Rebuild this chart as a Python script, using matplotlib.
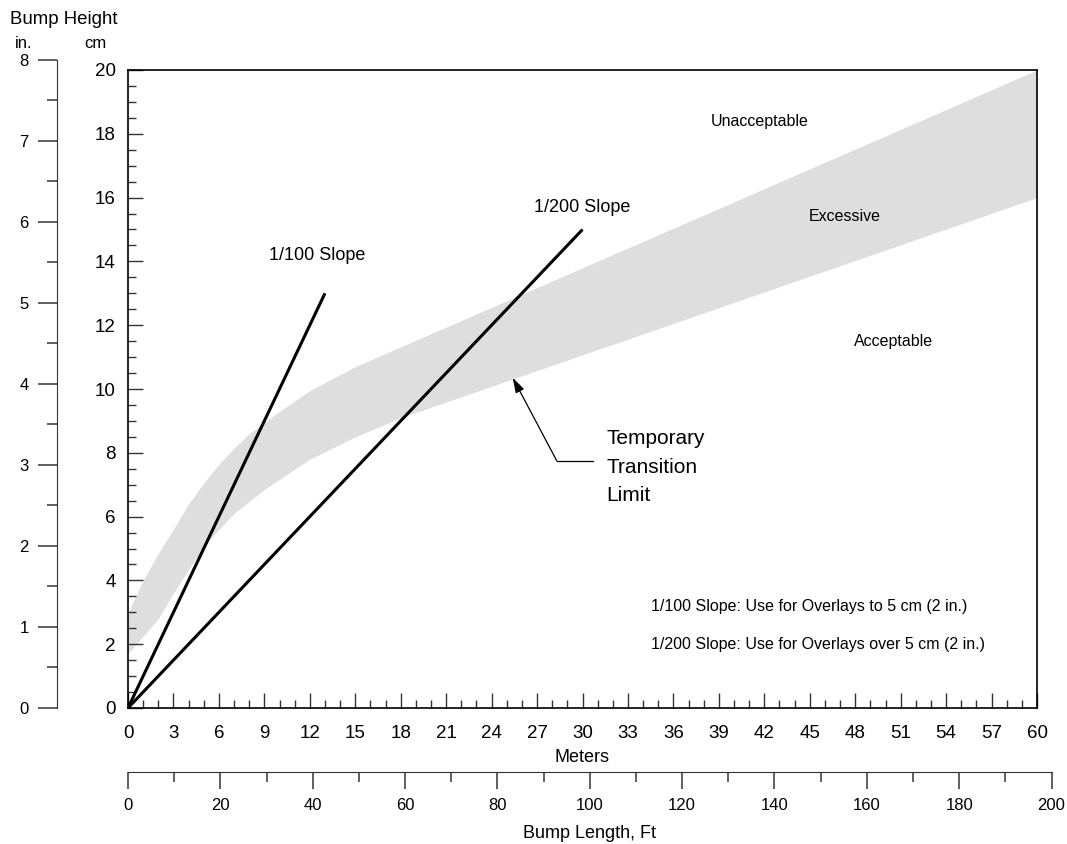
import numpy as np
import matplotlib.pyplot as plt
from matplotlib.ticker import MultipleLocator

plt.rcParams['font.family'] = ['Liberation Sans', 'DejaVu Sans']

# upper / lower edges of the temporary transition band (meters, cm)
upper_x = [0, 1, 2, 3, 4, 5, 6, 7, 8, 9, 10, 12, 15, 60]
upper_y = [3.0, 4.0, 4.85, 5.6, 6.4, 7.05, 7.65, 8.15, 8.6, 8.95, 9.3, 9.95, 10.7, 20.0]
lower_x = [0, 1, 2, 3, 4, 5, 6, 7, 9, 12, 15, 18, 60]
lower_y = [1.7, 2.25, 2.8, 3.6, 4.35, 5.05, 5.6, 6.1, 6.85, 7.8, 8.5, 9.1, 16.0]

# slope lines: end point in meters, rise per meter
slope_len = [13, 30]
slope_rate = [1 / 100 * 100, 1 / 200 * 100]   # cm per m
slope_names = ['1/100 Slope', '1/200 Slope']

CM_PER_IN = 2.54
M_PER_FT = 0.3048
X_MAX, Y_MAX = 60, 20
IN_MAX, FT_MAX = 8, 200

W, H = 1067, 844
fig = plt.figure(figsize=(W / 100, H / 100), dpi=100)

# main plot box in pixels
L, B, PW, PH = 128, 136, 909, 638
ax = fig.add_axes([L / W, B / H, PW / W, PH / H])

# band, drawn on a common x grid
xg = np.union1d(upper_x, lower_x)
ax.fill_between(xg, np.interp(xg, lower_x, lower_y), np.interp(xg, upper_x, upper_y),
                color='#dedede', lw=0, zorder=1)

for n, r in zip(slope_len, slope_rate):
    ax.plot([0, n], [0, n * r], color='black', lw=2.2, solid_capstyle='butt', zorder=3)

ax.set_xlim(0, X_MAX)
ax.set_ylim(0, Y_MAX)
ax.xaxis.set_major_locator(MultipleLocator(3))
ax.xaxis.set_minor_locator(MultipleLocator(1))
ax.yaxis.set_major_locator(MultipleLocator(2))
ax.yaxis.set_minor_locator(MultipleLocator(0.5))
ax.tick_params(which='both', direction='in', top=False, right=False, width=1.0, color='#333333')
ax.tick_params(which='major', length=10.5, labelsize=13.5, pad=9)
ax.tick_params(axis='x', which='major', pad=12)
ax.tick_params(which='minor', length=5.5)
for s in ax.spines.values():
    s.set_linewidth(1.2)
ax.set_xlabel('Meters', fontsize=13, labelpad=5)

ax.text(12.5, 14.2, slope_names[0], fontsize=13, ha='center', va='center')
ax.text(30, 15.7, slope_names[1], fontsize=13, ha='center', va='center')
ax.text(41.7, 18.4, 'Unacceptable', fontsize=11.5, ha='center', va='center')
ax.text(47.3, 15.4, 'Excessive', fontsize=11.5, ha='center', va='center')
ax.text(50.5, 11.5, 'Acceptable', fontsize=11.5, ha='center', va='center')
ax.text(34.5, 3.17, '1/100 Slope: Use for Overlays to 5 cm (2 in.)', fontsize=11.5, va='center')
ax.text(34.5, 2.0, '1/200 Slope: Use for Overlays over 5 cm (2 in.)', fontsize=11.5, va='center')

ax.text(31.6, 7.55, 'Temporary\nTransition\nLimit', fontsize=15, va='center', ha='left',
        linespacing=1.64)
ax.plot([28.3, 30.7], [7.75, 7.75], color='black', lw=0.9)
ax.annotate('', xy=(25.4, 10.35), xytext=(28.3, 7.75),
            arrowprops=dict(arrowstyle='-|>,head_length=0.9,head_width=0.28',
                            color='black', lw=0.9, shrinkA=0, shrinkB=0))

# inch scale on the far left
ax_in = fig.add_axes([57 / W, B / H, 0.0001, PH * IN_MAX * CM_PER_IN / Y_MAX / H])
ax_in.set_ylim(0, IN_MAX)
ax_in.set_xticks([])
for k in ['top', 'right', 'bottom']:
    ax_in.spines[k].set_visible(False)
ax_in.spines['left'].set_color('#333333')
ax_in.yaxis.set_major_locator(MultipleLocator(1))
ax_in.yaxis.set_minor_locator(MultipleLocator(0.5))
ax_in.tick_params(which='both', direction='out', length=13.5, width=1.2, color='#444444')
ax_in.tick_params(which='minor', length=7)
ax_in.tick_params(which='major', labelsize=12, pad=7)
ax_in.patch.set_visible(False)

# feet scale below the meters
ax_ft = fig.add_axes([L / W, 72 / H, PW * FT_MAX * M_PER_FT / X_MAX / W, 0.0001])
ax_ft.set_xlim(0, FT_MAX)
ax_ft.set_yticks([])
for k in ['top', 'right', 'left']:
    ax_ft.spines[k].set_visible(False)
ax_ft.spines['bottom'].set_color('#333333')
ax_ft.xaxis.set_major_locator(MultipleLocator(20))
ax_ft.xaxis.set_minor_locator(MultipleLocator(10))
ax_ft.tick_params(which='both', direction='out', width=1.2, color='#444444')
ax_ft.tick_params(which='major', length=12, labelsize=12, pad=7)
ax_ft.tick_params(which='minor', length=7)
ax_ft.set_xlabel('Bump Length, Ft', fontsize=13, labelpad=8)
ax_ft.patch.set_visible(False)

fig.text(10 / W, 1 - 20 / H, 'Bump Height', fontsize=13.4, va='center', ha='left')
fig.text(24 / W, 1 - 44 / H, 'in.', fontsize=12, va='center', ha='center')
fig.text(95.5 / W, 1 - 44 / H, 'cm', fontsize=12, va='center', ha='center')

fig.savefig('out.png', dpi=100)
